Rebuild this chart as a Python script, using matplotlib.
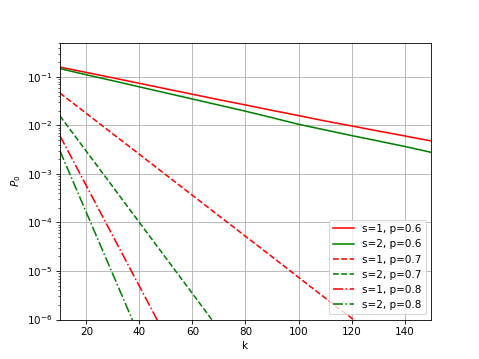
import matplotlib
matplotlib.use("Agg")
import matplotlib.pyplot as plt

# k values
k_all = [10, 20, 30, 40, 50, 60, 70, 80, 90, 100, 110, 120, 130, 140, 150]

# s=1, p=0.6
p0_s1_p06 = [0.160, 0.124, 0.096, 0.074, 0.057, 0.044, 0.034, 0.0265, 0.0205,
             0.016, 0.0124, 0.0098, 0.0077, 0.0061, 0.0048]
# s=2, p=0.6
p0_s2_p06 = [0.149, 0.111, 0.0836, 0.0625, 0.0469, 0.0351, 0.0263, 0.0197,
             0.0145, 0.0106, 0.0081, 0.0062, 0.0048, 0.0037, 0.0028]

# s=1, p=0.7
k_s1_p07 = [10, 20, 30, 40, 50, 60, 70, 80, 90, 100, 110, 120, 130]
p0_s1_p07 = [0.0468, 0.0177, 0.0067, 0.00254, 9.6e-4, 3.63e-4, 1.37e-4,
             5.2e-5, 1.97e-5, 7.4e-6, 2.8e-6, 1.07e-6, 4.0e-7]
# s=2, p=0.7
k_s2_p07 = [10, 20, 30, 40, 50, 60, 70, 80]
p0_s2_p07 = [0.0158, 0.00293, 5.42e-4, 1.0e-4, 1.85e-5, 3.43e-6, 6.3e-7, 1.17e-7]

# s=1, p=0.8
k_s1_p08 = [10, 20, 30, 40, 50]
p0_s1_p08 = [6.17e-3, 5.69e-4, 5.25e-5, 4.84e-6, 4.47e-7]
# s=2, p=0.8
k_s2_p08 = [10, 20, 30, 40]
p0_s2_p08 = [3.02e-3, 1.60e-4, 8.5e-6, 4.5e-7]

fig = plt.figure(figsize=(479 / 75, 359 / 75), dpi=75)
ax = fig.add_subplot(111)

ax.plot(k_all, p0_s1_p06, 'r-', label='s=1, p=0.6')
ax.plot(k_all, p0_s2_p06, 'g-', label='s=2, p=0.6')
ax.plot(k_s1_p07, p0_s1_p07, 'r--', label='s=1, p=0.7')
ax.plot(k_s2_p07, p0_s2_p07, 'g--', label='s=2, p=0.7')
ax.plot(k_s1_p08, p0_s1_p08, 'r-.', label='s=1, p=0.8')
ax.plot(k_s2_p08, p0_s2_p08, 'g-.', label='s=2, p=0.8')

ax.set_yscale('log')
ax.set_xlim(10, 150)
ax.set_ylim(1e-6, 0.5)
ax.set_xlabel('k')
ax.set_ylabel('$P_0$')
ax.grid(True)
ax.legend(loc='lower right')

fig.savefig('out.png', dpi=75)
